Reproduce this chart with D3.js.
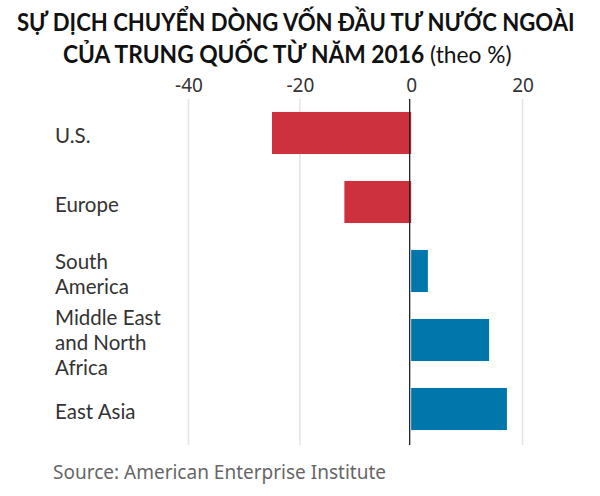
<!DOCTYPE html>
<html><head><meta charset="utf-8">
<script src="https://cdn.jsdelivr.net/npm/d3@7"></script>
<style>body{margin:0;background:#fff}svg{display:block}</style>
</head><body>
<svg id="c" width="600" height="496"></svg>
<script>
const categories = ["U.S.", "Europe", "South America", "Middle East and North Africa", "East Asia"];
const labelLines = [["U.S."], ["Europe"], ["South", "America"], ["Middle East", "and North", "Africa"], ["East Asia"]];
const values = [-25, -12, 3, 14, 17.2];
const tickValues = [-40, -20, 0, 20];
const titleLine1 = "SỰ DỊCH CHUYỂN DÒNG VỐN ĐẦU TƯ NƯỚC NGOÀI";
const titleLine2Bold = "CỦA TRUNG QUỐC TỪ NĂM 2016";
const titleLine2Normal = " (theo %)";
const source = "Source: American Enterprise Institute";

const svg = d3.select("#c");
const x = d3.scaleLinear().domain([-40, 20]).range([188.5, 522.5]);
const y = d3.scaleBand().domain(categories).range([98.5, 443.5]).paddingInner(0.39).paddingOuter(0.195);

function fit(sel, x0, x1) {
  const w = sel.node().getComputedTextLength();
  const sx = (x1 - x0) / w;
  const yb = +sel.attr("y");
  sel.attr("x", 0).attr("y", 0).attr("transform", `translate(${x0},${yb}) scale(${sx},1)`);
}

// title
const t1 = svg.append("text").attr("x", 17).attr("y", 31)
  .attr("font-family", "Lato, sans-serif").attr("font-weight", "bold")
  .attr("font-size", 24).attr("fill", "#111").text(titleLine1);
fit(t1, 17, 575);
const t2 = svg.append("text").attr("x", 63).attr("y", 63)
  .attr("font-family", "Lato, sans-serif").attr("font-size", 24).attr("fill", "#111");
t2.append("tspan").attr("font-weight", "bold").text(titleLine2Bold);
t2.append("tspan").attr("font-weight", "normal").text(titleLine2Normal);
fit(t2, 63, 512);

// gridlines
svg.append("g").selectAll("line").data(tickValues.filter(d => d !== 0)).join("line")
  .attr("x1", d => x(d)).attr("x2", d => x(d)).attr("y1", 99).attr("y2", 445)
  .attr("stroke", "#e3e3e3").attr("stroke-width", 1.5);

// axis
const axis = svg.append("g").attr("transform", "translate(0,92)")
  .call(d3.axisTop(x).tickValues(tickValues).tickSize(0).tickPadding(0).tickFormat(d => String(d)));
axis.select(".domain").remove();
axis.selectAll("text").attr("font-family", "Noto Sans, Open Sans, sans-serif").attr("font-size", 19)
  .attr("fill", "#333").attr("dy", 0).attr("y", 0);

// bars
svg.append("g").selectAll("rect").data(values).join("rect")
  .attr("x", d => x(Math.min(0, d))).attr("width", d => Math.abs(x(d) - x(0)))
  .attr("y", (d, i) => y(categories[i])).attr("height", y.bandwidth())
  .attr("fill", d => d < 0 ? "#cd313e" : "#0076aa");

// zero line
svg.append("line").attr("x1", x(0) - 1.5).attr("x2", x(0) - 1.5).attr("y1", 99).attr("y2", 445)
  .attr("stroke", "#222").attr("stroke-width", 1.3);

// labels
const lh = 25;
const lg = svg.append("g");
labelLines.forEach((lines, i) => {
  const cy = y(categories[i]) + y.bandwidth() / 2;
  const n = lines.length;
  lines.forEach((l, j) => {
    lg.append("text").attr("font-family", "Lato, sans-serif")
      .attr("font-size", 20.5).attr("fill", "#333")
      .attr("x", 55).attr("y", cy + 10 + (j - (n - 1) / 2) * lh).text(l);
  });
});

// source
svg.append("text").attr("x", 53).attr("y", 479).attr("font-family", "Noto Sans, Open Sans, sans-serif")
  .attr("font-size", 19).attr("fill", "#666").text(source);
</script>
</body></html>
